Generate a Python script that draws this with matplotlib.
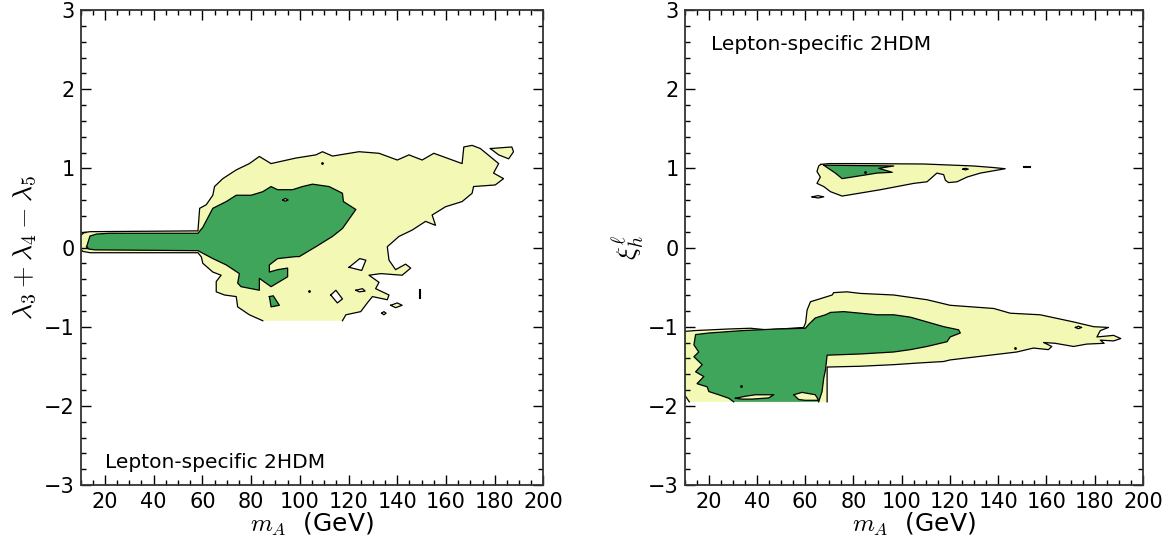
import matplotlib
matplotlib.use('Agg')
import matplotlib.pyplot as plt
from matplotlib.ticker import MultipleLocator

plt.rcParams['mathtext.fontset'] = 'cm'
plt.rcParams['font.family'] = 'DejaVu Sans'

LIGHT = '#f3f9b4'
DARK = '#3fa55a'

# ---- left panel: (m_A, lambda3+lambda4-lambda5) contours ----
# outer (light) region; last->first segment is the edge of the scan grid
lam_outer = [
    (117.5, -0.925), (118.9, -0.85), (125.0, -0.81), (127.7, -0.70), (129.8, -0.62),
    (135.9, -0.66), (136.6, -0.60), (131.1, -0.52), (132.5, -0.44), (128.4, -0.35),
    (133.2, -0.33), (142.0, -0.35), (145.5, -0.26), (143.4, -0.21), (139.3, -0.28),
    (136.6, -0.16), (135.9, 0.01), (140.7, 0.14), (146.1, 0.22), (151.6, 0.33),
    (155.7, 0.28), (154.3, 0.41), (159.8, 0.515), (166.6, 0.58), (170.7, 0.685),
    (171.3, 0.77), (180.2, 0.79), (183.6, 0.87), (179.5, 0.94), (181.6, 1.06),
    (174.1, 1.25), (170.7, 1.29), (167.3, 1.27), (166.6, 1.06), (155.0, 1.19),
    (150.2, 1.105), (144.8, 1.17), (140.0, 1.105), (132.5, 1.19), (124.3, 1.21),
    (113.4, 1.155), (109.3, 1.21), (106.6, 1.17), (98.4, 1.13), (88.2, 1.06),
    (83.4, 1.15), (79.3, 1.06), (73.9, 0.98), (68.4, 0.87), (65.0, 0.77),
    (64.3, 0.66), (61.6, 0.54), (58.9, 0.495), (58.2, 0.21), (14.0, 0.20),
    (11.5, 0.19), (10.0, 0.15), (10.0, -0.02), (11.0, -0.05), (14.0, -0.066),
    (58.2, -0.066), (59.6, -0.12), (60.2, -0.20), (64.3, -0.31), (67.7, -0.35),
    (65.7, -0.43), (65.7, -0.56), (69.1, -0.60), (73.9, -0.62), (74.5, -0.75),
    (79.3, -0.85), (84.8, -0.925),
]
lam_inner = [
    (12.5, 0.01), (13.9, 0.145), (16.6, 0.17), (22.0, 0.18), (58.2, 0.18),
    (60.2, 0.255), (64.3, 0.495), (69.8, 0.58), (73.9, 0.66), (80.0, 0.66),
    (84.8, 0.705), (88.2, 0.77), (90.9, 0.73), (97.0, 0.73), (101.1, 0.77),
    (105.2, 0.80), (112.0, 0.77), (117.5, 0.685), (117.9, 0.58), (123.0, 0.48),
    (117.5, 0.24), (113.4, 0.14), (106.6, 0.01), (99.8, -0.115), (98.4, -0.115),
    (90.9, -0.14), (87.5, -0.22), (87.5, -0.31), (90.9, -0.28), (95.0, -0.26),
    (95.0, -0.37), (88.2, -0.495), (83.4, -0.39), (83.4, -0.54), (75.9, -0.495),
    (74.5, -0.45), (75.2, -0.33), (69.8, -0.22), (64.3, -0.14), (58.2, -0.04),
    (16.0, -0.03), (13.5, -0.02),
]
lam_inner_island = [(87.5, -0.62), (89.1, -0.61), (91.6, -0.73), (88.2, -0.75)]
lam_holes = [
    [(120.2, -0.25), (124.6, -0.14), (127.1, -0.16), (125.4, -0.29)],
    [(112.7, -0.60), (114.8, -0.54), (117.5, -0.65), (115.4, -0.70)],
    [(123.0, -0.54), (125.7, -0.52), (126.8, -0.55), (124.4, -0.56)],
]
lam_outer_islands = [
    [(178.2, 1.25), (187.0, 1.27), (187.7, 1.21), (185.7, 1.12), (181.6, 1.17)],
    [(137.3, -0.73), (140.0, -0.70), (142.0, -0.73), (139.3, -0.76)],
    [(133.6, -0.83), (134.5, -0.81), (135.4, -0.83), (134.5, -0.85)],
    [(93.0, 0.60), (94.0, 0.62), (95.2, 0.60), (94.0, 0.585)],
]
lam_marks = [[(149.5, -0.54), (149.5, -0.64)]]
lam_dots = [(109.0, 1.07), (103.9, -0.55)]

# ---- right panel: (m_A, xi_h^l) contours ----
xi_low_outer = [
    (69.1, -1.95), (69.1, -1.51), (82.9, -1.50), (96.7, -1.48), (106.4, -1.46),
    (117.4, -1.44), (120.1, -1.42), (133.9, -1.37), (147.7, -1.32), (154.6, -1.27),
    (160.8, -1.29), (162.2, -1.25), (158.8, -1.20), (163.6, -1.21), (171.2, -1.25),
    (176.7, -1.22), (183.9, -1.21), (182.3, -1.17), (187.8, -1.18), (190.8, -1.15),
    (187.8, -1.11), (180.9, -1.13), (182.3, -1.05), (185.7, -1.01), (179.5, -1.00),
    (171.2, -0.94), (157.4, -0.85), (145.0, -0.83), (138.1, -0.77), (120.1, -0.73),
    (110.5, -0.66), (96.7, -0.60), (82.9, -0.58), (77.3, -0.56), (71.8, -0.57),
    (71.2, -0.60), (64.9, -0.66), (62.2, -0.685), (60.8, -0.79), (60.2, -0.95),
    (59.4, -1.01), (44.2, -1.04), (37.3, -1.02), (27.7, -1.03), (14.0, -1.05),
    (10.0, -1.06), (10.0, -1.86), (12.0, -1.95),
]
xi_low_inner = [
    (65.6, -1.95), (67.0, -1.82), (67.7, -1.65), (68.4, -1.55), (69.1, -1.36),
    (82.9, -1.345), (96.7, -1.32), (103.6, -1.29), (110.5, -1.25), (118.8, -1.19),
    (120.1, -1.13), (124.3, -1.08), (123.6, -1.04), (117.4, -1.00), (110.5, -0.94),
    (103.6, -0.88), (96.7, -0.85), (89.8, -0.85), (82.9, -0.83), (76.0, -0.81),
    (70.5, -0.82), (68.4, -0.85), (64.2, -0.89), (61.5, -0.97), (60.1, -1.02),
    (47.7, -1.03), (33.9, -1.05), (20.1, -1.08), (14.6, -1.10), (13.9, -1.23),
    (15.9, -1.32), (13.9, -1.38), (17.3, -1.48), (14.6, -1.57), (18.0, -1.63),
    (15.2, -1.72), (19.4, -1.76), (20.1, -1.82), (24.2, -1.86), (28.4, -1.905),
    (30.4, -1.95),
]
xi_low_lenses = [
    [(31.1, -1.905), (35.0, -1.88), (39.4, -1.86), (47.0, -1.86), (44.9, -1.90),
     (38.0, -1.915), (33.9, -1.915)],
    [(55.3, -1.86), (58.7, -1.83), (64.2, -1.86), (65.6, -1.93), (60.0, -1.93),
     (57.3, -1.92)],
]
xi_up_outer = [
    (66.5, 1.05), (70.0, 1.06), (81.5, 1.06), (109.0, 1.055), (129.7, 1.03),
    (138.0, 1.01), (142.9, 0.995), (132.6, 0.94), (127.1, 0.89), (122.9, 0.83),
    (119.4, 0.82), (118.1, 0.85), (117.4, 0.92), (114.6, 0.94), (110.5, 0.83),
    (105.0, 0.81), (91.2, 0.73), (77.4, 0.66), (75.3, 0.65), (70.5, 0.705),
    (67.7, 0.77), (64.9, 0.81), (66.3, 0.89), (64.9, 0.96), (65.6, 1.03),
]
xi_up_inner = [
    (67.7, 1.04), (96.7, 1.03), (90.5, 1.00), (96.1, 0.95), (89.8, 0.94),
    (85.7, 0.92), (75.3, 0.87), (72.5, 0.94), (69.1, 1.01),
]
xi_islands = [
    [(62.9, 0.64), (65.3, 0.655), (67.7, 0.64), (65.3, 0.625)],
]
xi_holes = [
    [(125.4, 0.99), (126.4, 1.0), (127.6, 0.99), (126.4, 0.98)],
    [(172.0, -1.01), (173.2, -0.995), (174.6, -1.01), (173.2, -1.025)],
]
xi_marks = [[(150.5, 1.02), (153.0, 1.02)]]
xi_dots = [(147.0, -1.27), (33.5, -1.745), (85.0, 0.95)]


def region(ax, pts, color, z, open_edge=False):
    xs = [p[0] for p in pts]
    ys = [p[1] for p in pts]
    ax.fill(xs, ys, color=color, lw=0, zorder=z)
    if not open_edge:
        xs = xs + xs[:1]
        ys = ys + ys[:1]
    ax.plot(xs, ys, color='k', lw=0.9, zorder=z + 0.5)


def style(ax, ylabel, ylabelpad):
    ax.set_xlim(10, 200)
    ax.set_ylim(-3, 3)
    ax.xaxis.set_major_locator(MultipleLocator(20))
    ax.xaxis.set_minor_locator(MultipleLocator(5))
    ax.yaxis.set_major_locator(MultipleLocator(1))
    ax.yaxis.set_minor_locator(MultipleLocator(0.2))
    ax.tick_params(which='both', direction='in', top=True, right=True,
                   labelsize=15, width=1, color='k')
    ax.tick_params(which='major', length=7)
    ax.tick_params(which='minor', length=3.5)
    ax.tick_params(axis='x', pad=5)
    ax.tick_params(axis='y', pad=4)
    for s in ax.spines.values():
        s.set_linewidth(1.3)
        s.set_color('#333333')
    ax.set_xlabel(r'$m_A$  (GeV)', fontsize=18, labelpad=-1)
    ax.set_ylabel(ylabel, fontsize=20, labelpad=ylabelpad)


fig = plt.figure(figsize=(11.74, 5.44), dpi=100)
ax1 = fig.add_axes([80.5 / 1174, 59 / 544, 463 / 1174, 475 / 544])
ax2 = fig.add_axes([684.5 / 1174, 59 / 544, 458.5 / 1174, 475 / 544])

region(ax1, lam_outer, LIGHT, 1, open_edge=True)
region(ax1, lam_inner, DARK, 2)
region(ax1, lam_inner_island, DARK, 2)
for h in lam_holes:
    region(ax1, h, 'white', 3)
for isl in lam_outer_islands:
    region(ax1, isl, LIGHT, 3)
for m in lam_marks:
    ax1.plot([p[0] for p in m], [p[1] for p in m], color='k', lw=1.5, zorder=4)
ax1.plot([p[0] for p in lam_dots], [p[1] for p in lam_dots], 'k.', ms=2, zorder=4)
ax1.text(20, -2.72, 'Lepton-specific 2HDM', fontsize=14.5, va='center')
style(ax1, r'$\lambda_3+\lambda_4-\lambda_5$', 4)

region(ax2, xi_low_outer, LIGHT, 1, open_edge=True)
region(ax2, xi_low_inner, DARK, 2, open_edge=True)
for ln in xi_low_lenses:
    region(ax2, ln, LIGHT, 3)
region(ax2, xi_up_outer, LIGHT, 1)
region(ax2, xi_up_inner, DARK, 2)
for isl in xi_islands:
    region(ax2, isl, LIGHT, 3)
for h in xi_holes:
    region(ax2, h, 'white', 3)
for m in xi_marks:
    ax2.plot([p[0] for p in m], [p[1] for p in m], color='k', lw=1.5, zorder=4)
ax2.plot([p[0] for p in xi_dots], [p[1] for p in xi_dots], 'k.', ms=2, zorder=4)
ax2.text(21, 2.57, 'Lepton-specific 2HDM', fontsize=14.5, va='center')
style(ax2, r'$\xi_h^\ell$', 1)

fig.savefig('out.png', dpi=100)
